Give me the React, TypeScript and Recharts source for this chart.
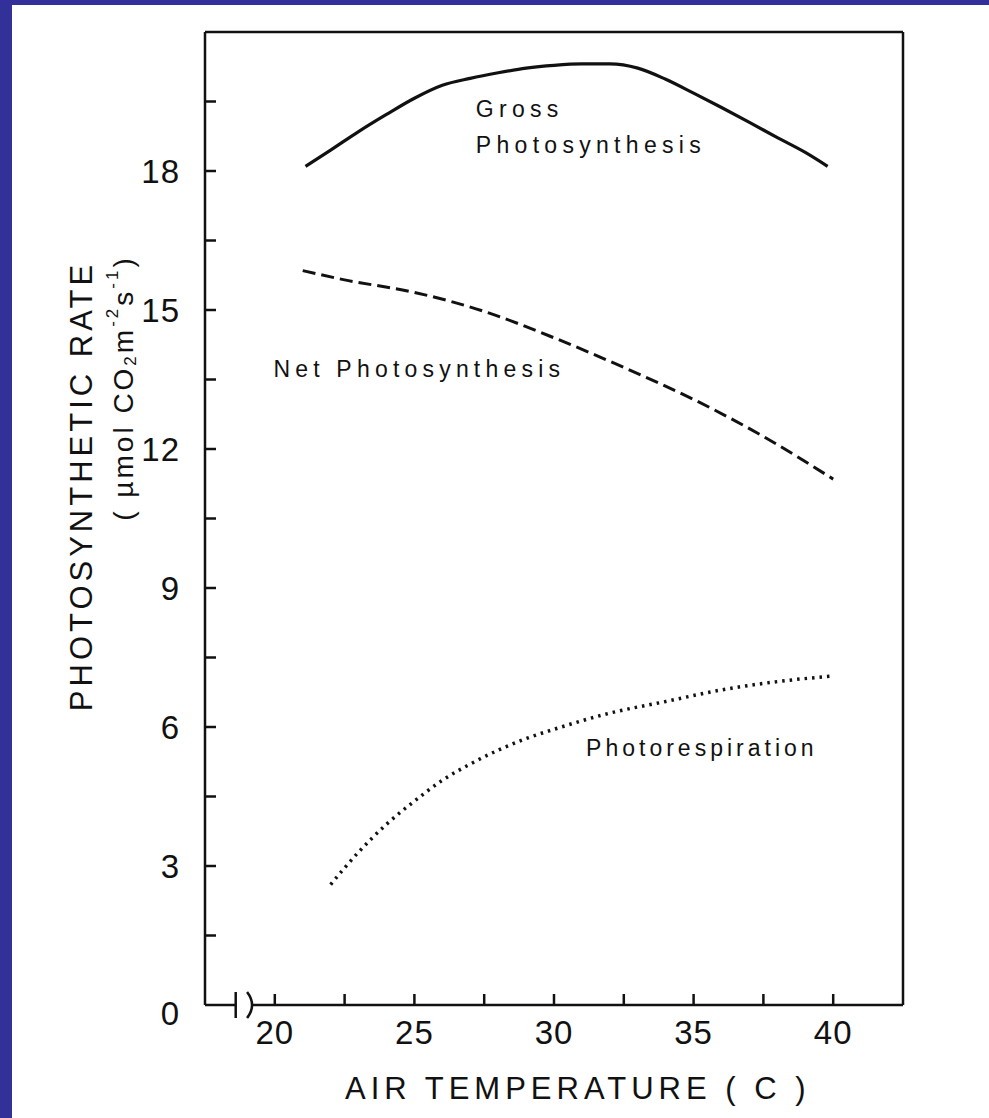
import React from 'react';
import { LineChart, Line, XAxis, YAxis, ReferenceLine, ReferenceDot } from 'recharts';

// ---- data ----
const grossTemp = [21.1, 22, 23, 24, 25, 26, 27, 28, 29, 30, 31, 32, 33, 34, 35, 36, 37, 38, 39, 39.8];
const grossRate = [18.1, 18.45, 18.85, 19.22, 19.57, 19.85, 20.0, 20.12, 20.22, 20.28, 20.31, 20.31, 20.22, 19.98, 19.68, 19.37, 19.05, 18.72, 18.4, 18.1];

const netTemp = [21, 22.5, 25, 27.5, 30, 32.5, 35, 37.5, 40];
const netRate = [15.85, 15.65, 15.38, 14.97, 14.4, 13.76, 13.07, 12.27, 11.35];

const photoTemp = [22, 23, 24, 25, 26, 27, 28, 29, 30, 32, 34, 36, 38, 40];
const photoRate = [2.6, 3.3, 3.9, 4.4, 4.85, 5.2, 5.5, 5.75, 5.95, 6.3, 6.55, 6.8, 6.98, 7.1];

const xTicks = [20, 22.5, 25, 27.5, 30, 32.5, 35, 37.5, 40];
const yTicks = [0, 1.5, 3, 4.5, 6, 7.5, 9, 10.5, 12, 13.5, 15, 16.5, 18, 19.5];

const xTitle = 'AIR TEMPERATURE ( C )';
const yTitle = 'PHOTOSYNTHETIC RATE';

const grossData = grossTemp.map((t, i) => ({ t, rate: grossRate[i] }));
const netData = netTemp.map((t, i) => ({ t, rate: netRate[i] }));
const photoData = photoTemp.map((t, i) => ({ t, rate: photoRate[i] }));

const FONT = '"Liberation Sans", Arial, Helvetica, sans-serif';
const INK = '#111111';

const XTick = (props: any) => {
  const { x, y, payload } = props;
  const v = payload.value;
  const major = v % 5 === 0;
  return (
    <g>
      <line x1={x} x2={x} y1={y} y2={y - 11} stroke={INK} strokeWidth={2.5} />
      {major && (
        <text x={x} y={y + 39} textAnchor="middle" fontSize={33} fill={INK} fontFamily={FONT} letterSpacing={1}>
          {v}
        </text>
      )}
    </g>
  );
};

const YTick = (props: any) => {
  const { x, y, payload } = props;
  const v = payload.value;
  const major = Number.isInteger(v / 3);
  return (
    <g>
      {v !== 0 && <line x1={x} x2={x + 11} y1={y} y2={y} stroke={INK} strokeWidth={2.5} />}
      {major && (
        <text x={x - 25} y={y + (v === 0 ? 20 : 12)} textAnchor="end" fontSize={33} fill={INK} fontFamily={FONT} letterSpacing={1}>
          {v}
        </text>
      )}
    </g>
  );
};

const YTitle = (props: any) => {
  const vb = props.viewBox || { x: 145, y: 33, width: 60, height: 972 };
  const left = vb.x + vb.width;
  const cx1 = left - 124;
  const cy1 = 486;
  const cx2 = left - 82;
  const cy2 = 388;
  return (
    <g>
      <text
        x={cx1}
        y={cy1}
        transform={`rotate(-90 ${cx1} ${cy1})`}
        textAnchor="middle"
        dominantBaseline="central"
        fontSize={31}
        letterSpacing={4}
        fill={INK}
        fontFamily={FONT}
      >
        {yTitle}
      </text>
      <text
        x={cx2}
        y={cy2}
        transform={`rotate(-90 ${cx2} ${cy2})`}
        textAnchor="middle"
        dominantBaseline="central"
        fontSize={28}
        letterSpacing={3}
        fill={INK}
        fontFamily={FONT}
      >
        <tspan>( µmol CO</tspan>
        <tspan fontSize={17} dy={7}>2</tspan>
        <tspan dy={-7}>m</tspan>
        <tspan fontSize={17} dy={-11}>-2</tspan>
        <tspan dy={11}>s</tspan>
        <tspan fontSize={17} dy={-11}>-1</tspan>
        <tspan dy={11}>)</tspan>
      </text>
    </g>
  );
};

const XTitle = (props: any) => {
  const vb = props.viewBox || { x: 205, y: 1005, width: 698, height: 60 };
  return (
    <text
      x={vb.x + 140}
      y={vb.y + 94}
      textAnchor="start"
      fontSize={31}
      letterSpacing={5}
      fill={INK}
      fontFamily={FONT}
    >
      {xTitle}
    </text>
  );
};

const textLabel = (lines: string[], spacing: number) => (props: any) => {
  const { cx, cy } = props;
  return (
    <text x={cx} y={cy} fontSize={23} letterSpacing={spacing} fill={INK} fontFamily={FONT} dominantBaseline="central">
      {lines.map((l, i) => (
        <tspan key={i} x={cx} dy={i === 0 ? 0 : 36}>
          {l}
        </tspan>
      ))}
    </text>
  );
};

const BreakBar = (props: any) => {
  const { cx, cy } = props;
  return <line x1={cx} x2={cx} y1={cy - 13} y2={cy + 13} stroke={INK} strokeWidth={2.5} />;
};

const BreakParen = (props: any) => {
  const { cx, cy } = props;
  return (
    <path
      d={`M${cx - 4},${cy - 13} Q${cx + 6},${cy} ${cx - 4},${cy + 13}`}
      fill="none"
      stroke={INK}
      strokeWidth={2.5}
    />
  );
};

export default function App() {
  return (
    <div style={{ position: 'absolute', left: 0, top: 0, width: 989, height: 1118, background: '#33309a' }}>
      <div style={{ position: 'absolute', left: 12, top: 5, width: 977, height: 1113, background: '#ffffff' }} />
      <div style={{ position: 'absolute', left: 0, top: 0 }}>
        <LineChart width={989} height={1118} margin={{ top: 32, right: 86, bottom: 53, left: 145 }}>
          <XAxis
            dataKey="t"
            type="number"
            domain={[17.5, 42.5]}
            ticks={xTicks}
            interval={0}
            allowDataOverflow
            axisLine={false}
            tickLine={false}
            tickSize={0}
            tickMargin={0}
            height={60}
            tick={<XTick />}
            label={{ content: <XTitle /> }}
          />
          <YAxis
            type="number"
            domain={[0, 21]}
            ticks={yTicks}
            interval={0}
            allowDataOverflow
            axisLine={{ stroke: INK, strokeWidth: 2.5 }}
            tickLine={false}
            tickSize={0}
            tickMargin={0}
            width={60}
            tick={<YTick />}
            label={{ content: <YTitle /> }}
          />
          {/* frame */}
          <ReferenceLine y={21} stroke={INK} strokeWidth={2.5} ifOverflow="visible" />
          <ReferenceLine x={42.5} stroke={INK} strokeWidth={2.5} ifOverflow="visible" />
          {/* bottom axis with break */}
          <ReferenceLine segment={[{ x: 17.5, y: 0 }, { x: 18.6, y: 0 }]} stroke={INK} strokeWidth={2.5} ifOverflow="visible" />
          <ReferenceLine segment={[{ x: 19.15, y: 0 }, { x: 42.5, y: 0 }]} stroke={INK} strokeWidth={2.5} ifOverflow="visible" />
          <ReferenceDot x={18.6} y={0} r={0} shape={<BreakBar />} ifOverflow="visible" />
          <ReferenceDot x={19.15} y={0} r={0} shape={<BreakParen />} ifOverflow="visible" />

          <Line data={grossData} dataKey="rate" type="monotone" stroke={INK} strokeWidth={3.2} dot={false} isAnimationActive={false} />
          <Line data={netData} dataKey="rate" type="monotone" stroke={INK} strokeWidth={3} strokeDasharray="13 6" dot={false} isAnimationActive={false} />
          <Line data={photoData} dataKey="rate" type="monotone" stroke={INK} strokeWidth={3.5} strokeDasharray="2.5 5" dot={false} isAnimationActive={false} />

          <ReferenceDot x={27.2} y={19.33} r={0} shape={textLabel(['Gross', 'Photosynthesis'], 5.3)} ifOverflow="visible" />
          <ReferenceDot x={19.95} y={13.72} r={0} shape={textLabel(['Net Photosynthesis'], 5.2)} ifOverflow="visible" />
          <ReferenceDot x={31.15} y={5.55} r={0} shape={textLabel(['Photorespiration'], 4)} ifOverflow="visible" />
        </LineChart>
      </div>
    </div>
  );
}
